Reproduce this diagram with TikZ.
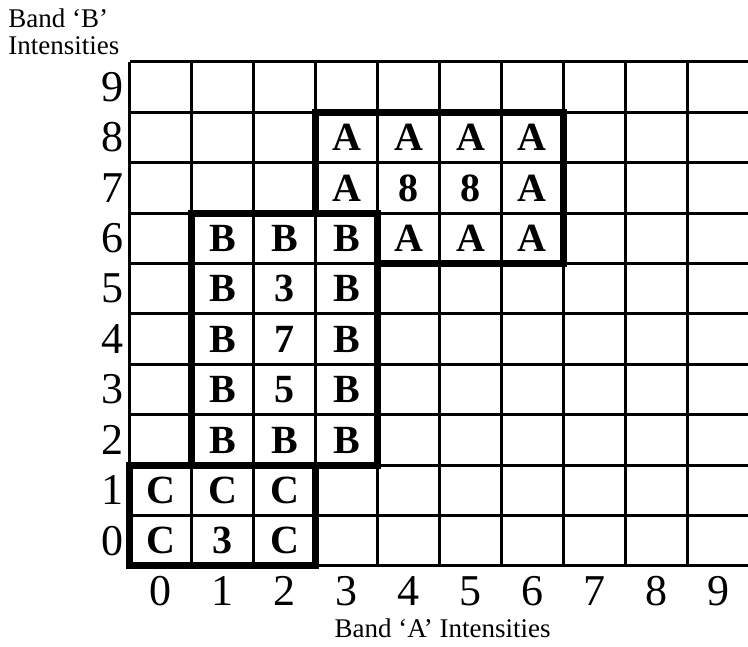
\documentclass[tikz,border=0pt]{standalone}
\usepackage{fontspec}
\setmainfont{Liberation Serif}
\usetikzlibrary{positioning,calc}
\tikzset{cell/.style={font=\fontsize{20}{24}\selectfont\bfseries,inner sep=0pt}  }
\tikzset{axnum/.style={font=\fontsize{22}{26}\selectfont,inner sep=0pt}  }
\tikzset{axlabel/.style={font=\fontsize{13.5}{16}\selectfont,inner sep=0pt}  }
\tikzset{gridline/.style={line width=1.5pt}  }
\tikzset{bound/.style={line width=3.5pt,line join=miter}  }

\begin{document}
\begin{tikzpicture}[x=30.95pt,y=25.2pt]
	\useasboundingbox (-2.1,-1.607) rectangle (9.984,11.23);
		\foreach \i in {0,...,10} \draw[gridline] (0,\i) -- (10,\i);
		\foreach \i in {0,...,9} \draw[gridline] (\i,0) -- (\i,10);

		\foreach \i in {0,...,9} {
			\node[axnum,anchor=east] (yn\i) at (-0.1,\i+0.5) {\i};
			\node[axnum] (xn\i) at (\i+0.5,-0.5) {\i};
		}

		\foreach \c/\r/\t in {3/8/A,4/8/A,5/8/A,6/8/A,
				3/7/A,4/7/8,5/7/8,6/7/A,
				1/6/B,2/6/B,3/6/B,4/6/A,5/6/A,6/6/A,
				1/5/B,2/5/3,3/5/B,
				1/4/B,2/4/7,3/4/B,
				1/3/B,2/3/5,3/3/B,
				1/2/B,2/2/B,3/2/B,
				0/1/C,1/1/C,2/1/C,
				0/0/C,1/0/3,2/0/C}
			\node[cell] (c\c\r) at (\c+0.5,\r+0.5) {\t};

		\draw[bound] (0,0) rectangle (3,2);
		\draw[bound] (1,2) rectangle (4,7);
		\draw[bound] (3,7) -- (3,9) -- (7,9) -- (7,6) -- (4,6);

				\node[axlabel,anchor=base west] (bband) at (-1.97,10.69) {Band ‘B’};
				\node[axlabel,anchor=base west] (bint) at (-1.97,10.14) {Intensities};
				\node[axlabel,anchor=base] (aband) at (5.05,-1.41) {Band ‘A’ Intensities};
	\end{tikzpicture}
\end{document}
